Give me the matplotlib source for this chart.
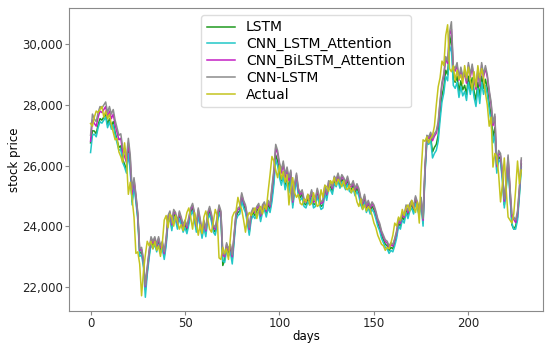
import matplotlib
matplotlib.use("Agg")
import matplotlib.pyplot as plt
from matplotlib.ticker import FuncFormatter

actual = [
    27390, 27300, 27600, 27800, 27750, 27850, 27950, 27600, 27800, 27550,
    27700, 27350, 27100, 26850, 26900, 26450, 26300, 26100, 26750, 26200,
    25050, 25450, 24900, 24300, 23100, 23150, 22750, 21700, 22500, 23050,
    23500, 23350, 23500, 23250, 23500, 23200, 23350, 23000, 23450, 24200,
    24350, 23950, 24400, 24300, 24000, 24350, 24150, 23900, 24050, 23850,
    24150, 24450, 24600, 24300, 23900, 24450, 24100, 23700, 24050, 23750,
    24300, 24500, 24250, 23900, 23800, 24150, 24550, 24350, 22950, 22900,
    23300, 23100, 23250, 22900, 23600, 24300, 24450, 24500, 24950, 24700,
    24550, 24200, 23800, 24300, 24450, 24350, 24500, 24600, 24250, 24550,
    24650, 24400, 24700, 24550, 25150, 25700, 26300, 26150, 25850, 25600,
    26000, 25550, 25800, 25450, 25700, 24700, 25250, 25600, 25100, 24950,
    25050, 24750, 24700, 24900, 24800, 25050, 24700, 24750, 25100, 24850,
    24650, 24700, 25200, 24950, 25350, 25300, 25150, 25500, 25400, 25600,
    25350, 25550, 25450, 25300, 25500, 25250, 25200, 25350, 25100, 25250,
    25100, 24800, 24650, 24900, 24550, 24700, 24500, 24650, 24550, 24350,
    24100, 23950, 23700, 23550, 23400, 23350, 23200, 23300, 23250, 23450,
    23700, 24100, 24000, 24300, 24200, 24550, 24350, 24600, 24700, 24500,
    24850, 24650, 24450, 24800, 24100, 25800, 26850, 26800, 26950, 26750,
    26900, 27000, 27300, 28000, 28600, 28900, 29450, 29300, 30300, 30650,
    29200, 29100, 29300, 28800, 29150, 28850, 29000, 28700, 29300, 28900,
    29250, 28800, 28500, 29100, 28600, 29300, 28900, 29200, 28900, 28400,
    28000, 27300, 27600, 25950, 26400, 26300, 25700, 24800, 25400, 26250,
    25200, 24300, 24200, 24100, 24400, 25200, 26150, 25400, 25850,
]

cnn_lstm = [
    27000, 27700, 27540, 27450, 27750, 27950, 27900, 28000, 28100, 27750,
    27950, 27700, 27850, 27500, 27250, 27000, 27050, 26600, 26450, 26250,
    26900, 26350, 25200, 25600, 25050, 24450, 23250, 23300, 22900, 22050,
    22650, 23200, 23650, 23500, 23650, 23400, 23650, 23350, 23500, 23150,
    23600, 24350, 24500, 24100, 24550, 24450, 24150, 24500, 24300, 24050,
    24200, 24000, 24300, 24600, 24750, 24450, 24050, 24600, 24250, 23850,
    24200, 23900, 24450, 24650, 24400, 24050, 23950, 24300, 24700, 24500,
    23100, 23050, 23450, 23250, 23400, 23050, 23750, 24450, 24600, 24650,
    25100, 24850, 24700, 24350, 23950, 24450, 24600, 24500, 24650, 24750,
    24400, 24700, 24800, 24550, 24850, 24700, 25300, 25850, 26700, 26500,
    26100, 25850, 26150, 25700, 25950, 25600, 25850, 24850, 25400, 25750,
    25250, 25100, 25200, 24900, 24850, 25050, 24950, 25200, 24850, 24900,
    25250, 25000, 24800, 24850, 25350, 25100, 25500, 25450, 25300, 25650,
    25550, 25750, 25500, 25700, 25600, 25450, 25650, 25400, 25350, 25500,
    25250, 25400, 25250, 24950, 24800, 25050, 24700, 24850, 24650, 24800,
    24700, 24500, 24250, 24100, 23850, 23700, 23550, 23500, 23350, 23450,
    23400, 23600, 23850, 24250, 24150, 24450, 24350, 24700, 24500, 24750,
    24850, 24650, 25000, 24800, 24600, 24950, 24250, 25950, 27000, 26950,
    27100, 26900, 27050, 27150, 27450, 28150, 28750, 29050, 29600, 29450,
    30400, 30750, 29300, 29200, 29400, 28900, 29250, 28950, 29100, 28800,
    29400, 29000, 29350, 28900, 28600, 29200, 28700, 29400, 29000, 29300,
    29000, 28500, 28100, 27400, 27700, 26050, 26500, 26400, 25800, 24900,
    25500, 26350, 25300, 24400, 24300, 24200, 24500, 25300, 26250,
]

cnn_bilstm_att = [
    26800, 27500, 27390, 27300, 27600, 27800, 27750, 27850, 27950, 27600,
    27800, 27550, 27700, 27350, 27100, 26850, 26900, 26450, 26300, 26100,
    26750, 26200, 25050, 25540, 24990, 24390, 23190, 23240, 22840, 22000,
    22590, 23140, 23590, 23440, 23590, 23340, 23590, 23290, 23440, 23090,
    23540, 24290, 24440, 24040, 24490, 24390, 24090, 24440, 24240, 23990,
    24140, 23940, 24240, 24540, 24690, 24390, 23990, 24540, 24190, 23790,
    24140, 23840, 24390, 24590, 24340, 23990, 23890, 24240, 24640, 24440,
    23040, 22990, 23390, 23190, 23340, 22990, 23690, 24390, 24540, 24590,
    25040, 24790, 24640, 24290, 23890, 24390, 24540, 24440, 24590, 24690,
    24340, 24640, 24740, 24490, 24790, 24640, 25200, 25750, 26600, 26400,
    26000, 25750, 26050, 25600, 25850, 25500, 25790, 24790, 25340, 25690,
    25190, 25040, 25140, 24840, 24790, 24990, 24890, 25140, 24790, 24840,
    25190, 24940, 24740, 24790, 25290, 25040, 25440, 25390, 25240, 25590,
    25490, 25690, 25440, 25640, 25540, 25390, 25590, 25340, 25290, 25440,
    25190, 25340, 25190, 24890, 24740, 24990, 24640, 24790, 24590, 24740,
    24640, 24440, 24190, 24040, 23790, 23640, 23490, 23440, 23290, 23390,
    23340, 23540, 23790, 24190, 24090, 24390, 24290, 24640, 24440, 24690,
    24790, 24590, 24940, 24740, 24540, 24890, 24190, 25890, 26940, 26890,
    27040, 26820, 26970, 27070, 27370, 28070, 28670, 28970, 29520, 29370,
    30320, 30500, 29220, 29120, 29320, 28820, 29170, 28870, 29020, 28720,
    29320, 28920, 29270, 28820, 28520, 29120, 28620, 29320, 28920, 29220,
    28920, 28420, 28020, 27320, 27620, 25970, 26420, 26320, 25720, 24820,
    25420, 26270, 25220, 24320, 24220, 24120, 24420, 25220, 26170,
]

lstm = [
    26750, 27150, 27140, 27050, 27350, 27550, 27500, 27600, 27700, 27350,
    27550, 27300, 27450, 27100, 26850, 26600, 26650, 26200, 26050, 25850,
    26500, 25950, 24800, 25450, 24900, 24300, 23100, 23150, 22750, 21900,
    22500, 23050, 23500, 23350, 23500, 23250, 23500, 23200, 23350, 23000,
    23450, 24200, 24350, 23950, 24400, 24300, 24000, 24350, 24150, 23900,
    24050, 23850, 24150, 24450, 24600, 24300, 23900, 24450, 24100, 23700,
    24050, 23750, 24300, 24500, 24250, 23900, 23800, 24150, 24550, 24350,
    22700, 22900, 23300, 23100, 23250, 22900, 23600, 24300, 24450, 24500,
    24950, 24700, 24550, 24200, 23800, 24300, 24450, 24350, 24500, 24600,
    24250, 24550, 24650, 24400, 24700, 24550, 24950, 25500, 26350, 26150,
    25750, 25500, 25800, 25350, 25600, 25250, 25700, 24700, 25250, 25600,
    25100, 24950, 25050, 24750, 24700, 24900, 24800, 25050, 24700, 24750,
    25100, 24850, 24650, 24700, 25200, 24950, 25350, 25300, 25150, 25500,
    25400, 25600, 25350, 25550, 25450, 25300, 25500, 25250, 25200, 25350,
    25100, 25250, 25100, 24800, 24650, 24900, 24550, 24700, 24500, 24650,
    24550, 24350, 24100, 23950, 23700, 23550, 23400, 23350, 23200, 23300,
    23250, 23450, 23700, 24100, 24000, 24300, 24200, 24550, 24350, 24600,
    24700, 24500, 24850, 24650, 24450, 24800, 24100, 25800, 26850, 26800,
    26950, 26450, 26600, 26700, 27000, 27700, 28300, 28600, 29150, 29000,
    29950, 30300, 28850, 28750, 28950, 28450, 28800, 28500, 28650, 28350,
    28950, 28550, 28900, 28450, 28150, 28750, 28250, 28950, 28550, 28850,
    28550, 28050, 27650, 26950, 27250, 25850, 26300, 26200, 25600, 24700,
    25300, 26150, 25100, 24050, 23900, 24000, 24300, 25100, 26050,
]

cnn_lstm_att = [
    26430, 27000, 27040, 26950, 27250, 27450, 27400, 27500, 27600, 27250,
    27450, 27200, 27350, 27000, 26750, 26500, 26550, 26100, 25950, 25750,
    26400, 25850, 24700, 25350, 24800, 24200, 23000, 23050, 22650, 21650,
    22400, 22950, 23400, 23250, 23400, 23150, 23400, 23100, 23250, 22900,
    23350, 24100, 24250, 23850, 24300, 24200, 23900, 24250, 24050, 23800,
    23950, 23750, 24050, 24350, 24500, 24200, 23800, 24350, 24000, 23600,
    23950, 23650, 24200, 24400, 24150, 23800, 23700, 24050, 24450, 24250,
    22850, 22800, 23200, 23000, 23150, 22750, 23500, 24200, 24350, 24400,
    24850, 24600, 24450, 24100, 23700, 24200, 24350, 24250, 24400, 24500,
    24150, 24450, 24550, 24300, 24600, 24450, 24800, 25350, 26200, 26000,
    25600, 25350, 25650, 25200, 25450, 25100, 25600, 24600, 25150, 25500,
    25000, 24850, 24950, 24650, 24600, 24800, 24700, 24950, 24600, 24650,
    25000, 24750, 24550, 24600, 25100, 24850, 25250, 25200, 25050, 25400,
    25300, 25500, 25250, 25450, 25350, 25200, 25400, 25150, 25100, 25250,
    25000, 25150, 25000, 24700, 24550, 24800, 24450, 24600, 24400, 24550,
    24450, 24250, 24000, 23850, 23600, 23450, 23300, 23250, 23100, 23200,
    23150, 23350, 23600, 24000, 23900, 24200, 24100, 24450, 24250, 24500,
    24600, 24400, 24750, 24550, 24350, 24700, 24000, 25700, 26750, 26700,
    26850, 26250, 26400, 26500, 26800, 27500, 28100, 28400, 28950, 28800,
    29750, 29950, 28650, 28550, 28750, 28250, 28600, 28300, 28450, 28150,
    28750, 28350, 28700, 28250, 27950, 28550, 28050, 28750, 28350, 28650,
    28350, 27850, 27450, 26750, 27050, 25750, 26200, 26100, 25500, 24600,
    25200, 26050, 25000, 24100, 23900, 23900, 24200, 25000, 25950,
]

series = [
    ("LSTM", lstm, "#1f9a1f"),
    ("CNN_LSTM_Attention", cnn_lstm_att, "#22c7c7"),
    ("CNN_BiLSTM_Attention", cnn_bilstm_att, "#c41fc4"),
    ("CNN-LSTM", cnn_lstm, "#8c8c8c"),
    ("Actual", actual, "#c4c41f"),
]

fig = plt.figure(figsize=(5.5, 3.46), dpi=100)
ax = fig.add_axes([0.1255, 0.101, 0.8615, 0.876])
for name, vals, col in series:
    ax.plot(range(len(vals)), vals, color=col, lw=1.1, label=name)

ax.yaxis.set_major_formatter(FuncFormatter(lambda v, p: f"{v:,.0f}"))
ax.set_xticks([0, 50, 100, 150, 200])
ax.set_yticks([22000, 24000, 26000, 28000, 30000])
for s in ax.spines.values():
    s.set_color("#8a8a8a")
ax.tick_params(colors="#8a8a8a", labelcolor="#222222", labelsize=8.5,
               length=3, pad=1.5)
ax.set_xlabel("days", fontsize=8.5, labelpad=0)
ax.set_ylabel("stock price", fontsize=8.5, labelpad=1)
ax.legend(loc="upper center", fontsize=10, framealpha=1.0, edgecolor="#dddddd",
          labelspacing=0.2, borderaxespad=0.5)
fig.savefig("out.png", dpi=100)
